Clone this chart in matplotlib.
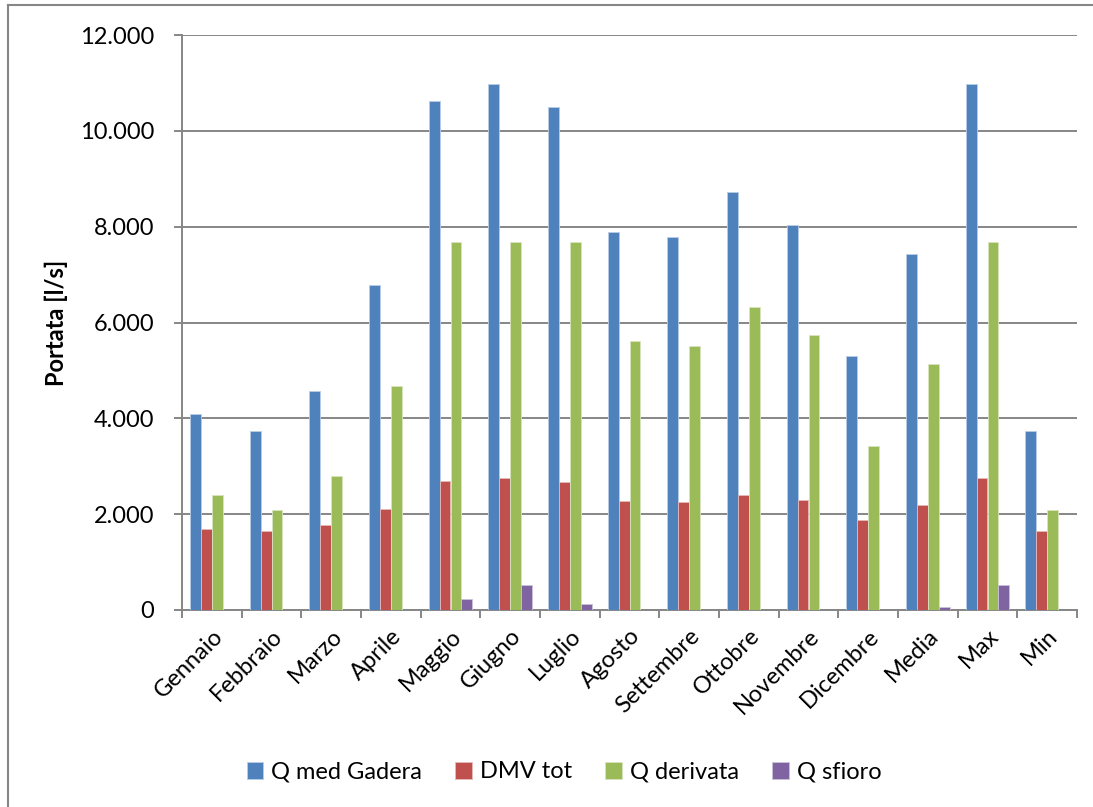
import matplotlib
matplotlib.use("Agg")
import matplotlib.pyplot as plt
import numpy as np
from matplotlib.lines import Line2D
from matplotlib.ticker import FuncFormatter

categories = ["Gennaio", "Febbraio", "Marzo", "Aprile", "Maggio", "Giugno", "Luglio",
              "Agosto", "Settembre", "Ottobre", "Novembre", "Dicembre", "Media", "Max", "Min"]
q_med_gadera = [4100, 3730, 4580, 6780, 10630, 10980, 10500, 7890, 7780, 8720, 8030, 5300, 7420, 10980, 3730]
dmv_tot = [1700, 1650, 1770, 2110, 2690, 2750, 2680, 2270, 2260, 2400, 2300, 1880, 2200, 2750, 1650]
q_derivata = [2400, 2090, 2800, 4670, 7690, 7690, 7690, 5610, 5520, 6320, 5730, 3420, 5130, 7690, 2090]
q_sfioro = [0, 0, 0, 0, 236, 530, 130, 0, 0, 0, 0, 0, 60, 530, 0]
series_names = ["Q med Gadera", "DMV tot", "Q derivata", "Q sfioro"]
y_ticks = [0, 2000, 4000, 6000, 8000, 10000, 12000]

plt.rcParams['font.family'] = ['Lato', 'DejaVu Sans']
FS = 17

W, H = 1093, 807
fig = plt.figure(figsize=(W / 100, H / 100), dpi=100)
ax = fig.add_axes([182 / W, 1 - 610 / H, (1077 - 182) / W, (610 - 35) / H])

colors = ["#4F81BD", "#C0504D", "#9BBB59", "#8064A2"]
edges = ["#B9CDE5", "#E6B9B8", "#D7E4BD", "#CCC1DA"]
series = [q_med_gadera, dmv_tot, q_derivata, q_sfioro]
x = np.arange(len(categories))
bw = 1 / 5.5
handles = []
for i, (vals, c, e, name) in enumerate(zip(series, colors, edges, series_names)):
    b = ax.bar(x + (i - 1.5) * bw, vals, width=bw, color=c, edgecolor=e, linewidth=0.6,
               label=name, zorder=3)
    handles.append(b)

ax.set_xlim(-0.5, len(categories) - 0.5)
ax.set_ylim(0, 12000)
ax.set_yticks(y_ticks)
ax.yaxis.set_major_formatter(FuncFormatter(lambda v, p: f"{int(v):,}".replace(",", ".")))
ax.grid(axis='y', color="#868686", linewidth=1.4, zorder=0)
ax.set_axisbelow(True)

for s in ["top", "right"]:
    ax.spines[s].set_visible(False)
for s in ["left", "bottom"]:
    ax.spines[s].set_color("#868686")
    ax.spines[s].set_linewidth(1.4)

ax.tick_params(axis='y', length=6, width=1.4, color="#868686", pad=14, labelsize=FS)
ax.set_xticks(x)
ax.set_xticklabels(categories, rotation=45, ha='right', rotation_mode='anchor', fontsize=FS)
ax.tick_params(axis='x', which='major', length=0, pad=11)
ax.set_xticks(np.arange(-0.5, len(categories), 1), minor=True)
ax.tick_params(axis='x', which='minor', length=6, width=1.4, color="#868686", direction='out')

ax.set_ylabel("Portata [l/s]", fontsize=FS, fontweight='bold')
ax.yaxis.set_label_coords((68 - 182) / (1077 - 182), 0.5)

fig.legend(handles=handles, labels=series_names, loc='center', bbox_to_anchor=(564 / W, 1 - 772 / H),
           ncol=4, frameon=False, fontsize=FS, handlelength=0.7, handleheight=0.7,
           handletextpad=0.35, columnspacing=1.4)

# outer chart frame (left and top visible)
fig.add_artist(Line2D([8 / W, 8 / W], [1 - 5 / H, 0], transform=fig.transFigure, color="#868686", linewidth=1.5))
fig.add_artist(Line2D([8 / W, 1], [1 - 5 / H, 1 - 5 / H], transform=fig.transFigure, color="#868686", linewidth=1.5))

fig.savefig("out.png", dpi=100)
